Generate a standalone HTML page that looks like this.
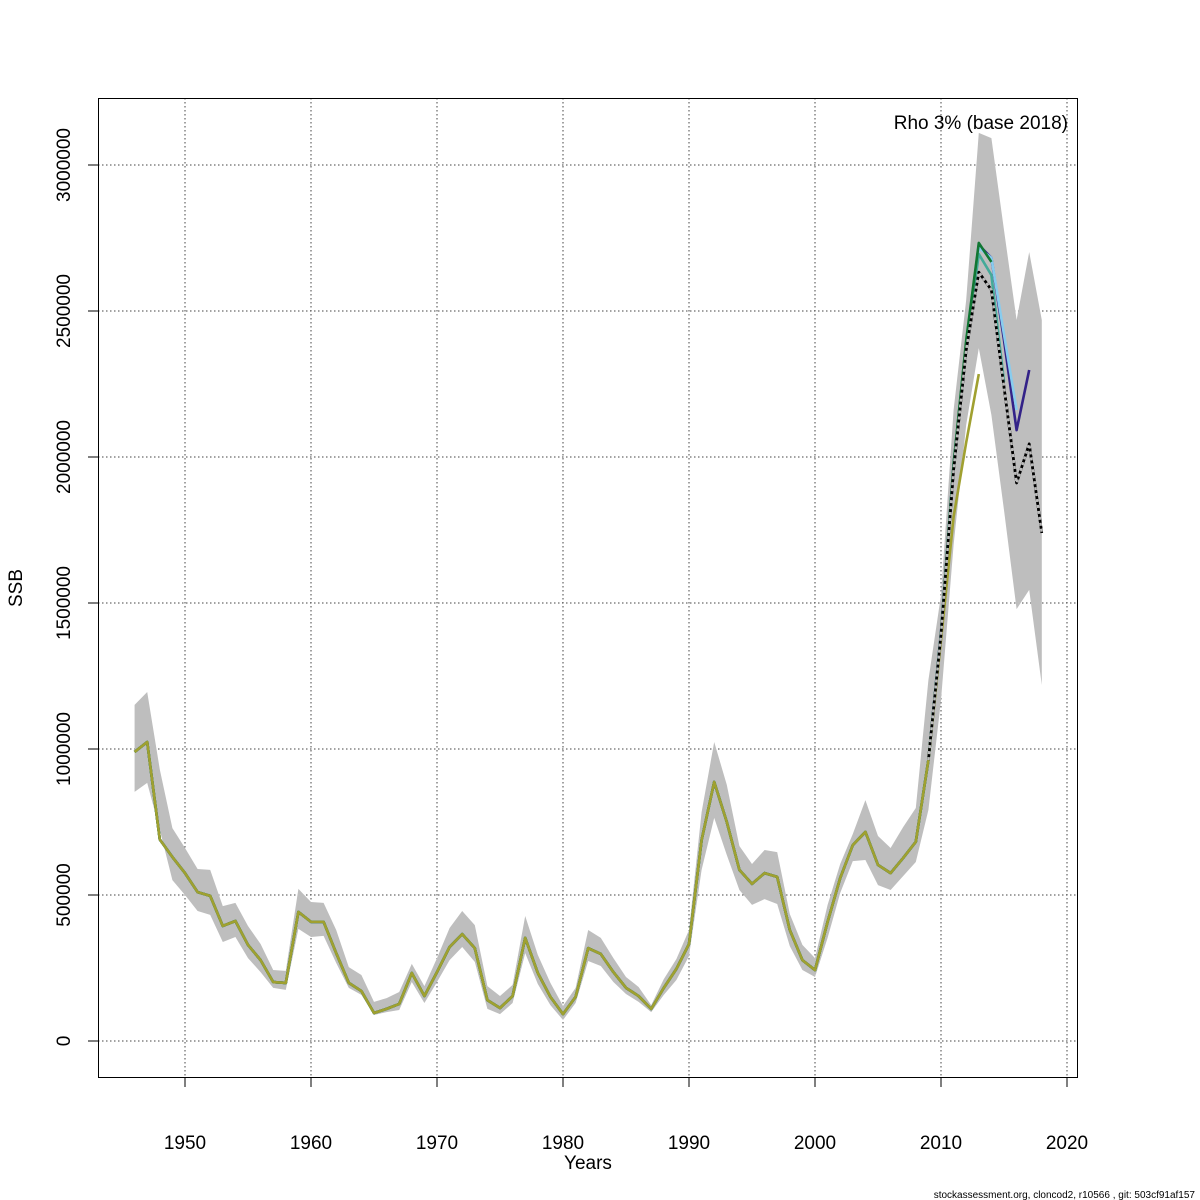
<!DOCTYPE html>
<html><head><meta charset="utf-8"><style>
body{margin:0;background:#fff}
svg{display:block;font-family:"Liberation Sans","DejaVu Sans",sans-serif}
</style></head><body>
<svg id="chart" width="1200" height="1200" viewBox="0 0 1200 1200">
<rect x="0" y="0" width="1200" height="1200" fill="#fff"/>
<g id="grid"></g>
<g id="band"></g>
<g id="lines"></g>
<g id="axes"></g>
<rect x="98.5" y="98.5" width="979" height="979" fill="none" stroke="#000" stroke-width="1"/>
<text x="1068" y="129" font-size="19" text-anchor="end">Rho 3% (base 2018)</text>
<text x="588" y="1169" font-size="19" text-anchor="middle">Years</text>
<text x="0" y="0" font-size="19" text-anchor="middle" transform="translate(22,588) rotate(-90)">SSB</text>
<text x="1195" y="1198" font-size="10" text-anchor="end">stockassessment.org, cloncod2, r10566 , git: 503cf91af157</text>
</svg>
<script>
const years = [];
for (let y = 1946; y <= 2018; y++) years.push(y);
const xTicks = [1950,1960,1970,1980,1990,2000,2010,2020];
const yTicks = [0,500000,1000000,1500000,2000000,2500000,3000000];
const yTickLabels = ["0","500000","1000000","1500000","2000000","2500000","3000000"];
// base (2018) SSB estimates, thousands
const ssbBase = [990,1024,690,630,575,510,497,394,411,329,277,202,199,442,408,408,301,199,171,96,110,127,233,154,236,322,366,318,140,113,154,353,233,151,92,151,318,298,236,182,154,110,182,247,332,688,887,750,586,538,575,562,380,277,243,408,558,671,716,603,575,627,682,962,1390,1955,2366,2633,2572,2240,1911,2045,1740];
const ciUpper = [1151,1195,930,729,661,589,586,462,473,394,332,243,240,521,476,473,380,253,226,134,147,168,264,188,284,387,445,397,188,154,192,428,295,199,120,182,380,353,284,219,185,123,212,281,380,784,1024,877,668,606,654,647,435,329,284,466,606,709,825,702,661,733,798,1236,1527,2161,2538,3110,3092,2777,2469,2702,2469];
const ciLower = [853,884,723,551,500,445,432,339,356,284,236,182,175,384,356,360,267,182,158,89,99,106,202,130,202,277,322,271,110,92,130,301,195,123,72,130,274,257,202,161,134,99,158,209,291,586,764,637,517,466,486,469,325,243,219,353,507,616,620,534,517,565,613,791,1168,1699,2110,2373,2144,1818,1479,1545,1219];
// retrospective peels: values from 2010 to terminal year (thousands)
const peel2017 = [1400,1975,2390,2726,2682,2400,2092,2298];
const peel2016 = [1395,1970,2385,2716,2682,2420,2161];
const peel2015 = [1390,1965,2375,2695,2623,2257];
const peel2014 = [1395,1975,2400,2733,2668];
const peel2013 = [1373,1795,2050,2284];
const peelColors = ["#332288","#88CCEE","#44AA99","#117733","#A0A030"];
const peels = [peel2017,peel2016,peel2015,peel2014,peel2013];
const peelNames = ["peel-2017","peel-2016","peel-2015","peel-2014","peel-2013"];

const NS="http://www.w3.org/2000/svg";
const X = yr => 185 + (yr-1950)*12.6;
const Y = v => 1041 - v*292/1e6;
function mk(tag, attrs, parent){const e=document.createElementNS(NS,tag);for(const k in attrs)e.setAttribute(k,attrs[k]);parent.appendChild(e);return e;}
const grid=document.getElementById('grid'), band=document.getElementById('band'), lines=document.getElementById('lines'), axes=document.getElementById('axes');

xTicks.forEach(t=>{
  const l=mk('line',{x1:X(t),x2:X(t),y1:98,y2:1077,stroke:'#444','stroke-width':1,'stroke-dasharray':'1.5,2.5'},grid);
  
  
  const tk=mk('line',{x1:X(t),x2:X(t),y1:1077,y2:1087,stroke:'#000'},axes);
  
  
  const tx=mk('text',{x:X(t),y:1149,'font-size':19,'text-anchor':'middle'},axes);
  tx.textContent=t;
  
  
});
yTicks.forEach((t,i)=>{
  const l=mk('line',{x1:98,x2:1077,y1:Y(t),y2:Y(t),stroke:'#444','stroke-width':1,'stroke-dasharray':'1.5,2.5'},grid);
  
  
  const tk=mk('line',{x1:88,x2:98,y1:Y(t),y2:Y(t),stroke:'#000'},axes);
  
  
  const tx=mk('text',{x:0,y:0,'font-size':19,'text-anchor':'middle',transform:`translate(70,${Y(t)}) rotate(-90)`},axes);
  tx.textContent=yTickLabels[i];
  
  
});

let d='';
years.forEach((y,i)=>{d+=(i?'L':'M')+X(y)+','+Y(ciUpper[i]*1000);});
for(let i=years.length-1;i>=0;i--) d+='L'+X(years[i])+','+Y(ciLower[i]*1000);
const p=mk('path',{d:d+'Z',fill:'#bebebe',stroke:'none'},band);



function series(vals, startIdx, color, dash, name){
  let s='';
  vals.forEach((v,i)=>{s+=(i?'L':'M')+X(years[startIdx+i])+','+Y(v*1000);});
  const e=mk('path',{d:s,fill:'none',stroke:color,'stroke-width':2.6,'stroke-linejoin':'round'},lines);
  if(dash) e.setAttribute('stroke-dasharray',dash);
  
  
}
const i2010 = years.indexOf(2010);
// base line as solid black under dashed
series(ssbBase,0,'#000',null,'base-2018-line');
peels.forEach((pv,k)=>{
  const full = ssbBase.slice(0,i2010).concat(pv);
  series(full,0,peelColors[k],null,peelNames[k]+'-line');
});
// dashed base end on top
series(ssbBase.slice(i2010-1),i2010-1,'#000',null,'base-2018-tail');
series(ssbBase.slice(i2010-1),i2010-1,'#bbbbbb','3,3','base-2018-dash');
</script>
</body></html>
